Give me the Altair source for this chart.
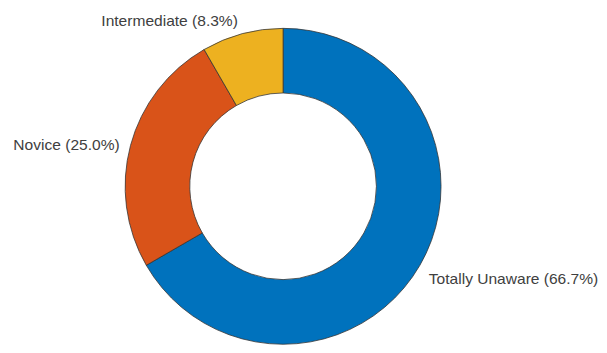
import altair as alt
import pandas as pd

categories = ["Totally Unaware", "Novice", "Intermediate"]
counts = [8, 3, 1]
percents = ["66.7%", "25.0%", "8.3%"]
colors = ["#0072BD", "#D95319", "#EDB120"]
order = [0, 1, 2]

df = pd.DataFrame({
    "cat": categories,
    "count": counts,
    "label": [f"{c} ({p})" for c, p in zip(categories, percents)],
    "order": order,
})

CX, CY = 283, 176.5
R_OUT, R_IN, R_LAB = 162.5, 96, 172

arcs = alt.Chart(df).mark_arc(
    x=CX, y=CY, radius=R_OUT, radius2=R_IN,
    stroke="#333333", strokeWidth=0.8,
).encode(
    theta=alt.Theta("count:Q", stack=True),
    order=alt.Order("order:Q"),
    color=alt.Color("cat:N", scale=alt.Scale(domain=categories, range=colors), legend=None),
)

def label_layer(cat, align, baseline, dx=0, dy=0):
    return alt.Chart(df).transform_stack(
        stack="count", as_=["s0", "s1"], groupby=[],
        sort=[alt.SortField("order", order="ascending")],
    ).transform_calculate(
        mid="(datum.s0 + datum.s1) / 2"
    ).transform_filter(
        alt.datum.cat == cat
    ).mark_text(
        x=CX, y=CY, radius=R_LAB, align=align, baseline=baseline, dx=dx, dy=dy,
        font="Liberation Sans", fontSize=16, color="#404040",
    ).encode(
        theta=alt.Theta("mid:Q", stack=None),
        text="label:N",
    )

labels = [
    label_layer("Totally Unaware", "left", "top", 1, 2),
    label_layer("Novice", "right", "middle", -2, 2),
    label_layer("Intermediate", "right", "alphabetic", -2, 1),
]

chart = alt.layer(arcs, *labels).properties(
    width=591, height=337, padding=0,
).configure_view(stroke=None)

chart.save("out.html", embed_options={"renderer": "svg", "actions": False})
